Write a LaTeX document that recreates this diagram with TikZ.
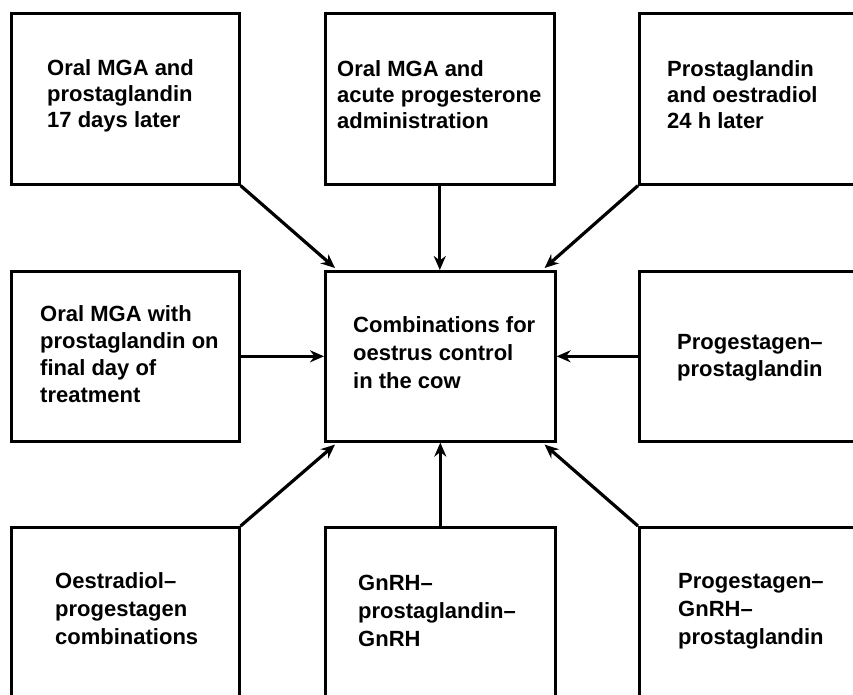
\documentclass[tikz,border=0pt]{standalone}
\usepackage{fontspec}
\setmainfont{Liberation Sans}
\usetikzlibrary{arrows.meta,calc}
\begin{document}
\begin{tikzpicture}[x=1pt,y=-1pt,
  box/.style={draw,line width=2.6pt,rectangle,inner sep=0pt,anchor=north west},
  lbl/.style={anchor=base west,align=left,inner sep=0pt,font=\bfseries\fontsize{22}{27}\selectfont},
  arr/.style={line width=3.2pt,-{Stealth[length=14pt,width=12pt]}}]
\useasboundingbox (0,0) rectangle (853,694);
% boxes
\node[box,minimum width=228pt,minimum height=171pt] (b1) at (10,12) {};
\node[box,minimum width=229pt,minimum height=171pt] (b2) at (324,12) {};
\node[box,minimum width=300pt,minimum height=171pt] (b3) at (638,12) {};
\node[box,minimum width=228pt,minimum height=170pt] (b4) at (10,270) {};
\node[box,minimum width=230pt,minimum height=170pt] (c) at (324,270) {};
\node[box,minimum width=300pt,minimum height=170pt] (b6) at (638,270) {};
\node[box,minimum width=228pt,minimum height=250pt] (b7) at (10,526) {};
\node[box,minimum width=230pt,minimum height=250pt] (b8) at (324,526) {};
\node[box,minimum width=300pt,minimum height=250pt] (b9) at (638,526) {};
% labels (anchored at the baseline of the last line)
\node[lbl,font=\bfseries\fontsize{22}{26}\selectfont] (t1) at (47,127) {Oral MGA and\\prostaglandin\\17 days later};
\node[lbl,font=\bfseries\fontsize{22}{26}\selectfont] (t2) at (337,128) {Oral MGA and\\acute progesterone\\administration};
\node[lbl,font=\bfseries\fontsize{22}{26}\selectfont] (t3) at (667,128) {Prostaglandin\\and oestradiol\\24 h later};
\node[lbl] (t4) at (40,402) {Oral MGA with\\prostaglandin on\\final day of\\treatment};
\node[lbl,font=\bfseries\fontsize{22}{28}\selectfont] (tc) at (353,388) {Combinations for\\oestrus control\\in the cow};
\node[lbl] (t6) at (677,376) {Progestagen--\\prostaglandin};
\node[lbl,font=\bfseries\fontsize{22}{28}\selectfont] (t7) at (55,644) {Oestradiol--\\progestagen\\combinations};
\node[lbl,font=\bfseries\fontsize{22}{28}\selectfont] (t8) at (358,646) {GnRH--\\prostaglandin--\\GnRH};
\node[lbl,font=\bfseries\fontsize{22}{28}\selectfont] (t9) at (678,644) {Progestagen--\\GnRH--\\prostaglandin};
% arrows
\draw[arr] (b1.south east) -- ($(c.north west)+(11,-2)$);
\draw[arr] (b2.south) -- (b2.south |- c.north);
\draw[arr] (b3.south west) -- ($(c.north east)+(-12,-2)$);
\draw[arr] (b4.east) -- (c.west);
\draw[arr] (b6.west) -- (c.east);
\draw[arr] (b7.north east) -- ($(c.south west)+(11,2)$);
\draw[arr] (b8.north) -- (b8.north |- c.south);
\draw[arr] (b9.north west) -- ($(c.south east)+(-12,2)$);
\end{tikzpicture}
\end{document}
